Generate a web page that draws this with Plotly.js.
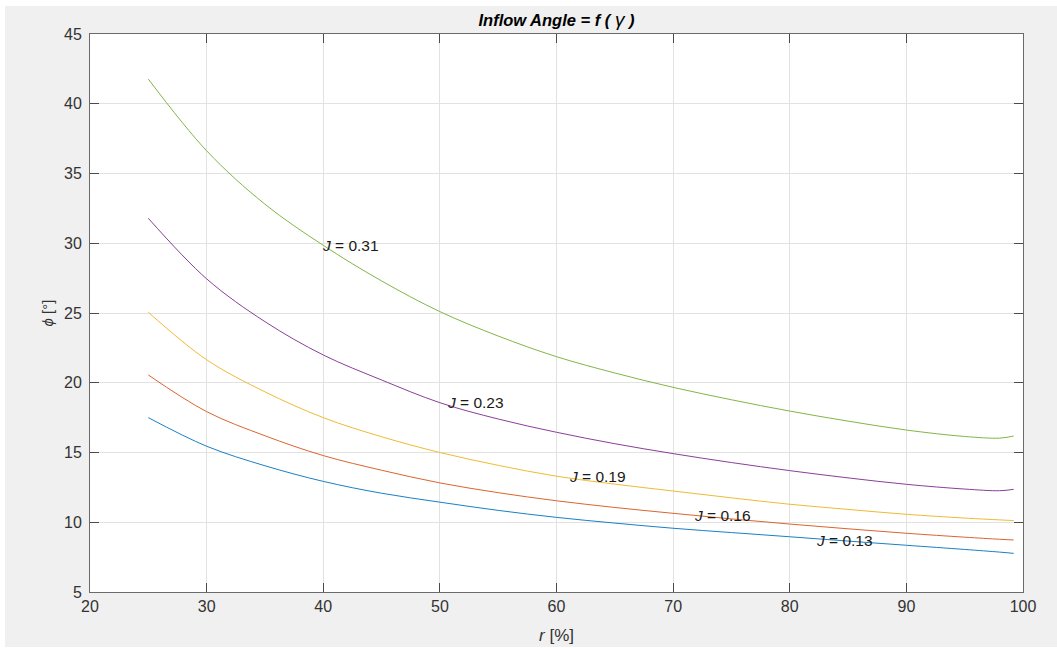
<!DOCTYPE html>
<html>
<head>
<meta charset="utf-8">
<script src="https://cdn.plot.ly/plotly-3.0.1.min.js"></script>
<style>
html,body{margin:0;padding:0;background:#ffffff;}
#chart{position:absolute;left:5px;top:6px;width:1052px;height:641px;}
</style>
</head>
<body>
<div id="chart"></div>
<script>
// radius in % of tip radius
const r = [25, 30, 35, 40, 45, 50, 55, 60, 65, 70, 75, 80, 85, 90, 95, 98, 99.2];
// inflow angle phi [deg] for each advance ratio J
const phiJ013 = [17.50, 15.45, 14.05, 12.93, 12.08, 11.44, 10.85, 10.35, 9.94, 9.57, 9.26, 8.96, 8.65, 8.35, 8.05, 7.86, 7.77];
const phiJ016 = [20.56, 17.93, 16.20, 14.78, 13.73, 12.82, 12.12, 11.54, 11.06, 10.64, 10.24, 9.87, 9.53, 9.21, 8.93, 8.78, 8.73];
const phiJ019 = [25.05, 21.65, 19.35, 17.50, 16.13, 15.00, 14.08, 13.30, 12.73, 12.24, 11.75, 11.29, 10.92, 10.57, 10.30, 10.17, 10.12];
const phiJ023 = [31.79, 27.45, 24.38, 21.99, 20.20, 18.57, 17.40, 16.45, 15.63, 14.92, 14.28, 13.70, 13.18, 12.72, 12.38, 12.26, 12.36];
const phiJ031 = [41.77, 36.63, 32.80, 29.85, 27.30, 25.10, 23.35, 21.87, 20.70, 19.67, 18.78, 17.97, 17.25, 16.61, 16.15, 16.03, 16.18];

const seriesNames = ['J = 0.13', 'J = 0.16', 'J = 0.19', 'J = 0.23', 'J = 0.31'];
const seriesValues = [phiJ013, phiJ016, phiJ019, phiJ023, phiJ031];
const seriesColors = ['#1a80c6', '#dc6430', '#eebb35', '#8a3f98', '#82b548'];

// label anchor points (left edge, vertical middle)
const labelText = ['<i>J</i> = 0.13', '<i>J</i> = 0.16', '<i>J</i> = 0.19', '<i>J</i> = 0.23', '<i>J</i> = 0.31'];
const labelR = [82.2, 71.7, 61.0, 50.5, 39.8];
const labelPhi = [8.66, 10.45, 13.27, 18.6, 29.87];

const xTicks = [20, 30, 40, 50, 60, 70, 80, 90, 100];
const yTicks = [5, 10, 15, 20, 25, 30, 35, 40, 45];

const FONT = '"Liberation Sans", Arial, Helvetica, sans-serif';

const traces = seriesValues.map((vals, i) => ({
  x: r,
  y: vals,
  type: 'scatter',
  mode: 'lines',
  name: seriesNames[i],
  line: {color: seriesColors[i], width: 1, shape: 'spline', smoothing: 1},
  hoverinfo: 'x+y+name'
}));

const annotations = labelText.map((t, i) => ({
  x: labelR[i], y: labelPhi[i], xref: 'x', yref: 'y',
  text: t, showarrow: false, xanchor: 'left', yanchor: 'middle',
  borderpad: 0,
  font: {family: FONT, size: 15.5, color: '#1a1a1a'}
}));

const axisCommon = {
  showline: true, mirror: 'ticks', linecolor: '#6a6a6a', linewidth: 1,
  ticks: 'inside', ticklen: 9, tickwidth: 1, tickcolor: '#4a4a4a',
  showgrid: true, gridcolor: '#e2e2e2', gridwidth: 1,
  zeroline: false,
  tickfont: {family: FONT, size: 16, color: '#333333'}
};

const layout = {
  width: 1052, height: 641,
  paper_bgcolor: '#f0f0f0', plot_bgcolor: '#ffffff',
  margin: {l: 85, r: 34, t: 28, b: 55},
  showlegend: false,
  font: {family: FONT, color: '#262626'},
  title: {
    text: '<b><i>Inflow Angle = f ( </i></b><i><span style="font-size:19px">γ</span></i><b><i> )</i></b>',
    font: {family: FONT, size: 16.5, color: '#000000'},
    x: 0.5, xref: 'paper', xanchor: 'center',
    y: 0.978, yref: 'container', yanchor: 'middle'
  },
  xaxis: Object.assign({}, axisCommon, {
    range: [20, 100], tickvals: xTicks, ticktext: xTicks.map(String),
    title: {text: '<i>r</i> [%]', font: {family: FONT, size: 17, color: '#333333'}, standoff: 14}
  }),
  yaxis: Object.assign({}, axisCommon, {
    range: [5, 45], tickvals: yTicks, ticktext: yTicks.map(String),
    ticklabelstandoff: 4,
    title: {text: '<i>ϕ</i> [°]', font: {family: FONT, size: 15, color: '#333333'}, standoff: 6}
  }),
  annotations: annotations
};

Plotly.newPlot('chart', traces, layout, {displayModeBar: false, staticPlot: false});
</script>
</body>
</html>
